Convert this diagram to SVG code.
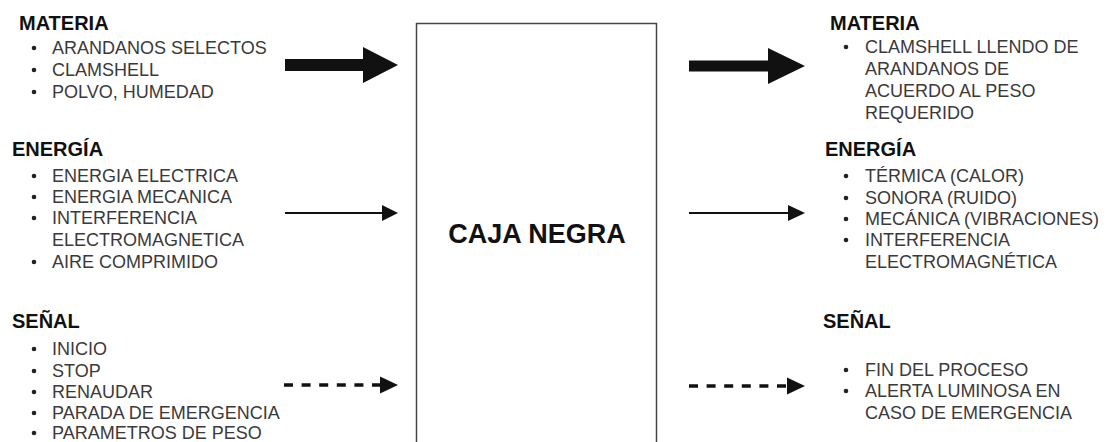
<svg xmlns="http://www.w3.org/2000/svg" width="1109" height="442" viewBox="0 0 1109 442">
<style>
.h{font-family:"Liberation Sans",Arial,sans-serif;font-weight:bold;font-size:20px;fill:#111}
.t{font-family:"Liberation Sans",Arial,sans-serif;font-size:18px;fill:#3a3a3a}
.title{font-family:"Liberation Sans",Arial,sans-serif;font-weight:bold;font-size:27px;fill:#111}
.thin{stroke:#111;stroke-width:2.2;fill:none}
.dash{stroke:#111;stroke-width:3.5;stroke-dasharray:9 8.6;fill:none}
.head{fill:#111}
.dot{fill:#222}
</style>
<rect width="1109" height="442" fill="#fff"/>
<g id="connectors">
  <polygon class="head" points="285,59 363,59 363,47 398,65 363,83 363,71 285,71"/>
  <line class="thin" x1="285" y1="213" x2="385" y2="213"/>
  <polygon class="head" points="382,205 398,213 382,221"/>
  <line class="dash" x1="284" y1="385" x2="381" y2="385"/>
  <polygon class="head" points="380,376.5 398,385 380,393.5"/>
  <polygon class="head" points="689,60.5 768,60.5 768,48 805,66 768,84 768,71.5 689,71.5"/>
  <line class="thin" x1="689" y1="213" x2="792" y2="213"/>
  <polygon class="head" points="788,205 805,213 788,221"/>
  <line class="dash" x1="689" y1="386" x2="788" y2="386"/>
  <polygon class="head" points="787,377.5 805,386 787,394.5"/>
</g>
<g id="caja-negra">
  <rect x="416.5" y="23.5" width="240" height="430" fill="#fff" stroke="#444" stroke-width="1.5"/>
  <text class="title" x="537" y="243" text-anchor="middle">CAJA NEGRA</text>
</g>
<g id="materia-entrada">
  <text class="h" x="19" y="30">MATERIA</text>
  <circle class="dot" cx="34" cy="48" r="2.3"/><text class="t" x="52" y="54">ARANDANOS SELECTOS</text>
  <circle class="dot" cx="34" cy="70" r="2.3"/><text class="t" x="52" y="76">CLAMSHELL</text>
  <circle class="dot" cx="34" cy="92" r="2.3"/><text class="t" x="52" y="98">POLVO, HUMEDAD</text>
</g>
<g id="energia-entrada">
  <text class="h" x="12" y="156">ENERGÍA</text>
  <circle class="dot" cx="34" cy="176" r="2.3"/><text class="t" x="52" y="182">ENERGIA ELECTRICA</text>
  <circle class="dot" cx="34" cy="197" r="2.3"/><text class="t" x="52" y="203">ENERGIA MECANICA</text>
  <circle class="dot" cx="34" cy="218" r="2.3"/><text class="t" x="52" y="224">INTERFERENCIA</text>
  <text class="t" x="52" y="246">ELECTROMAGNETICA</text>
  <circle class="dot" cx="34" cy="262" r="2.3"/><text class="t" x="52" y="268">AIRE COMPRIMIDO</text>
</g>
<g id="senal-entrada">
  <text class="h" x="12" y="328">SEÑAL</text>
  <circle class="dot" cx="34" cy="349" r="2.3"/><text class="t" x="52" y="355">INICIO</text>
  <circle class="dot" cx="34" cy="371" r="2.3"/><text class="t" x="52" y="377">STOP</text>
  <circle class="dot" cx="34" cy="392" r="2.3"/><text class="t" x="52" y="398">RENAUDAR</text>
  <circle class="dot" cx="34" cy="413" r="2.3"/><text class="t" x="52" y="419">PARADA DE EMERGENCIA</text>
  <circle class="dot" cx="34" cy="433" r="2.3"/><text class="t" x="52" y="439">PARAMETROS DE PESO</text>
</g>
<g id="materia-salida">
  <text class="h" x="830" y="30">MATERIA</text>
  <circle class="dot" cx="846" cy="47" r="2.3"/><text class="t" x="865" y="53">CLAMSHELL LLENDO DE</text>
  <text class="t" x="865" y="75">ARANDANOS DE</text>
  <text class="t" x="865" y="97">ACUERDO AL PESO</text>
  <text class="t" x="865" y="119">REQUERIDO</text>
</g>
<g id="energia-salida">
  <text class="h" x="825" y="156">ENERGÍA</text>
  <circle class="dot" cx="846" cy="176" r="2.3"/><text class="t" x="865" y="182">TÉRMICA (CALOR)</text>
  <circle class="dot" cx="846" cy="198" r="2.3"/><text class="t" x="865" y="204">SONORA (RUIDO)</text>
  <circle class="dot" cx="846" cy="219" r="2.3"/><text class="t" x="865" y="225">MECÁNICA (VIBRACIONES)</text>
  <circle class="dot" cx="846" cy="240" r="2.3"/><text class="t" x="865" y="246">INTERFERENCIA</text>
  <text class="t" x="865" y="268">ELECTROMAGNÉTICA</text>
</g>
<g id="senal-salida">
  <text class="h" x="823" y="328">SEÑAL</text>
  <circle class="dot" cx="846" cy="370" r="2.3"/><text class="t" x="865" y="376">FIN DEL PROCESO</text>
  <circle class="dot" cx="846" cy="391" r="2.3"/><text class="t" x="865" y="397">ALERTA LUMINOSA EN</text>
  <text class="t" x="865" y="419">CASO DE EMERGENCIA</text>
</g>
</svg>
